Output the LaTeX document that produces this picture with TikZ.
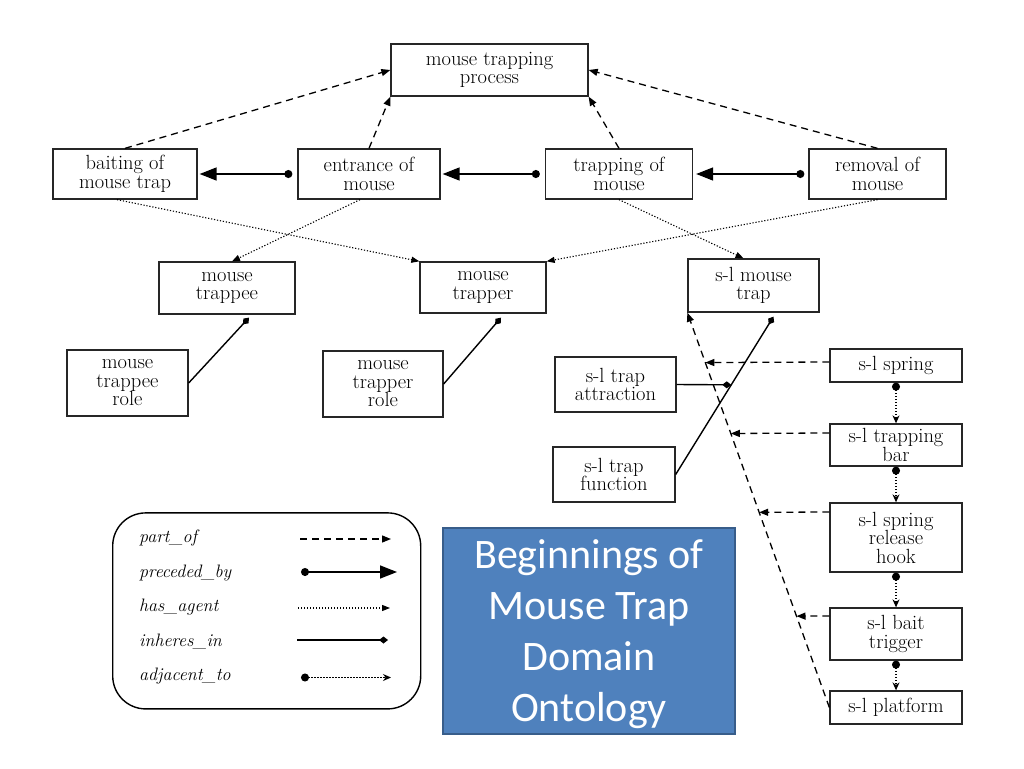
\documentclass[tikz,border=0pt]{standalone}
\usepackage{fontspec}
\usepackage{tikz}
\usetikzlibrary{arrows.meta}
\newfontfamily\titlefont{Carlito}
\definecolor{slideblue}{RGB}{79,129,189}
\definecolor{slideborder}{RGB}{56,93,138}
\tikzset{
  concept/.style={draw=black!85, line width=1.3pt, align=center, inner sep=2pt, font=\fontsize{20.5}{18.5}\selectfont},
  partof/.style={line width=1.3pt, dash pattern=on 7pt off 5pt, -{Triangle[length=9pt,width=7pt]}},
  precededby/.style={line width=1.5pt, {Circle[length=8pt]}-{Triangle[length=17pt,width=13pt]}},
  hasagent/.style={line width=1.1pt, dash pattern=on 1.2pt off 1.8pt, -{Triangle[length=8pt,width=6pt]}},
  inheresin/.style={line width=1.4pt, -{Diamond[length=9pt,width=7pt]}},
  adjacentto/.style={line width=1.1pt, dash pattern=on 1.2pt off 1.8pt, {Circle[length=8pt]}-{Stealth[length=8pt,width=7pt]}},
  legendbox/.style={draw, line width=1.4pt, rounded corners=33pt},
  legendlabel/.style={anchor=base west, inner sep=0pt, font=\fontsize{18}{20}\selectfont\itshape},
  titlebox/.style={fill=slideblue, draw=slideborder, line width=1.6pt, text=white, align=center, font=\titlefont\fontsize{42}{51}\selectfont}
}
\begin{document}
\begin{tikzpicture}[x=1pt, y=-1pt]
  \fill[white] (0,0) rectangle (1024,768);
  \useasboundingbox (0,0) rectangle (1024,768);

  \node[concept, minimum width=197pt, minimum height=52pt] (proc) at (489.5,70) {mouse trapping\\process};
  \node[concept, minimum width=144pt, minimum height=50pt] (bait) at (125,174) {baiting of\\mouse trap};
  \node[concept, minimum width=142pt, minimum height=50pt] (entr) at (369,174) {entrance of\\mouse};
  \node[concept, minimum width=147pt, minimum height=50pt] (trapg) at (619,174) {trapping of\\mouse};
  \node[concept, minimum width=137pt, minimum height=50pt] (remv) at (877.5,174) {removal of\\mouse};

  \node[concept, minimum width=136pt, minimum height=52pt] (trappee) at (227,288) {mouse\\trappee};
  \node[concept, minimum width=126pt, minimum height=51pt] (trapper) at (483,287.5) {mouse\\trapper};
  \node[concept, minimum width=131pt, minimum height=53pt] (slmt) at (753.5,285.5) {s-l mouse\\trap};

  \node[concept, minimum width=121pt, minimum height=66pt] (trappeerole) at (127.5,383) {mouse\\trappee\\role};
  \node[concept, minimum width=120pt, minimum height=66pt] (trapperrole) at (383,384) {mouse\\trapper\\role};
  \node[concept, minimum width=121pt, minimum height=55pt] (attr) at (615.5,384.5) {s-l trap\\attraction};
  \node[concept, minimum width=122pt, minimum height=55pt] (func) at (614,474.5) {s-l trap\\function};

  \node[concept, minimum width=132pt, minimum height=33pt] (spring) at (896,365.5) {s-l spring};
  \node[concept, minimum width=132pt, minimum height=42pt] (bar) at (896,445) {s-l trapping\\bar};
  \node[concept, minimum width=132pt, minimum height=69pt] (hook) at (896,537.5) {s-l spring\\release\\hook};
  \node[concept, minimum width=132pt, minimum height=52pt] (trigger) at (896,634) {s-l bait\\trigger};
  \node[concept, minimum width=132pt, minimum height=33pt] (platform) at (896,707.5) {s-l platform};

  \draw[partof] (bait.north) -- (proc.west);
  \draw[partof] (entr.north) -- (proc.south west);
  \draw[partof] (trapg.north) -- (proc.south east);
  \draw[partof] (remv.north) -- (proc.east);

  \draw[precededby, shorten <=5pt, shorten >=2pt] (entr.west) -- (bait.east);
  \draw[precededby, shorten <=5pt, shorten >=2pt] (trapg.west) -- (entr.east);
  \draw[precededby, shorten <=4pt, shorten >=3pt] (remv.west) -- (trapg.east);

  \draw[hasagent] ([xshift=-8pt]bait.south) -- (trapper.north west);
  \draw[hasagent] ([xshift=-9pt]entr.south) -- ([xshift=5pt]trappee.north);
  \draw[hasagent] (remv.south) -- (trapper.north east);
  \draw[hasagent] (trapg.south) -- ([xshift=-10pt]slmt.north);

  \draw[inheresin] (trappeerole.east) -- ([xshift=22pt,yshift=-3pt]trappee.south);
  \draw[inheresin] (trapperrole.east) -- ([xshift=18pt,yshift=-4pt]trapper.south);
  \draw[inheresin] (func.east) -- coordinate[pos=0.568] (funcmid) ([xshift=20pt,yshift=-4pt]slmt.south);
  \draw[inheresin] (attr.east) -- (funcmid);

  \draw[partof] (platform.west) -- coordinate[pos=0.2314] (triggerpt) coordinate[pos=0.4943] (hookpt)
    coordinate[pos=0.694] (barpt) coordinate[pos=0.8736] (springpt) (slmt.south west);
  \draw[partof] ([yshift=3.5pt]spring.west) -- (springpt);
  \draw[partof] ([yshift=12pt]bar.west) -- (barpt);
  \draw[partof] ([yshift=25.5pt]hook.west) -- (hookpt);
  \draw[partof] ([yshift=18pt]trigger.west) -- (triggerpt);

  \draw[adjacentto] (spring.south) -- (bar.north);
  \draw[adjacentto] (bar.south) -- (hook.north);
  \draw[adjacentto] (hook.south) -- (trigger.north);
  \draw[adjacentto] (trigger.south) -- (platform.north);

  \node[legendbox, minimum width=308pt, minimum height=196pt] (legend) at (266.7,610.9) {};
  \node[legendlabel] (lpartof) at (139,542) {part\_of};
  \node[legendlabel] (lprecededby) at (139,577) {preceded\_by};
  \node[legendlabel] (lhasagent) at (139,611.5) {has\_agent};
  \node[legendlabel] (linheresin) at (139,646) {inheres\_in};
  \node[legendlabel] (ladjacentto) at (139,680.5) {adjacent\_to};
  \coordinate (partofA) at (300,539);
  \coordinate (partofB) at (391,539);
  \coordinate (precededbyA) at (301,572);
  \coordinate (precededbyB) at (397,572);
  \coordinate (hasagentA) at (298,608);
  \coordinate (hasagentB) at (390,608);
  \coordinate (inheresinA) at (297,640);
  \coordinate (inheresinB) at (388,640);
  \coordinate (adjacenttoA) at (301,677.5);
  \coordinate (adjacenttoB) at (391,677.5);
  \draw[partof] (partofA) -- (partofB);
  \draw[precededby] (precededbyA) -- (precededbyB);
  \draw[hasagent] (hasagentA) -- (hasagentB);
  \draw[inheresin] (inheresinA) -- (inheresinB);
  \draw[adjacentto] (adjacenttoA) -- (adjacenttoB);

  \node[titlebox, minimum width=292pt, minimum height=206pt, text depth=0pt] (title) at (589,631) {Beginnings of\\Mouse Trap\\Domain\\Ontology};
\end{tikzpicture}
\end{document}
